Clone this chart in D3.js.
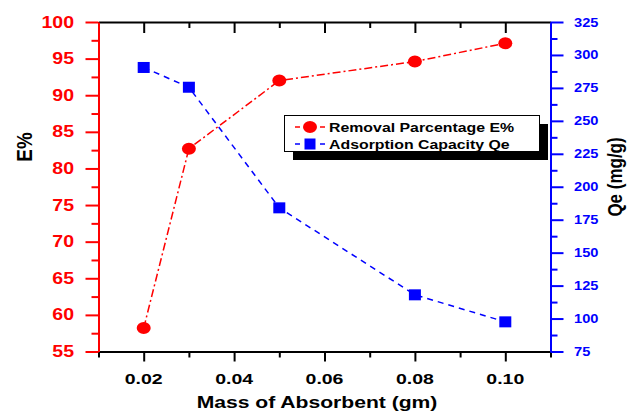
<!DOCTYPE html>
<html>
<head>
<meta charset="utf-8">
<script src="https://cdn.jsdelivr.net/npm/d3@7"></script>
<style>
  body { margin: 0; background: #fff; }
  svg { display: block; }
  text { font-family: "Liberation Sans", Arial, sans-serif; font-weight: bold; }
</style>
</head>
<body>
<svg id="chart" width="627" height="413"></svg>
<script>
// Mass of absorbent (gm) and the two measured series
const mass = [0.02, 0.03, 0.05, 0.08, 0.10];
const removalPct = [58.2, 82.7, 92.0, 94.6, 97.1];
const capacityQe = [290.5, 275.5, 184, 118, 97.5];

// Tick values
const xMajor = [0.02, 0.04, 0.06, 0.08, 0.10];
const xMinor = [0.01, 0.03, 0.05, 0.07, 0.09, 0.11];
const xLabels = ["0.02", "0.04", "0.06", "0.08", "0.10"];
const eMajor = [55, 60, 65, 70, 75, 80, 85, 90, 95, 100];
const eMinor = [57.5, 62.5, 67.5, 72.5, 77.5, 82.5, 87.5, 92.5, 97.5];
const qMajor = [75, 100, 125, 150, 175, 200, 225, 250, 275, 300, 325];
const qMinor = [87.5, 112.5, 137.5, 162.5, 187.5, 212.5, 237.5, 262.5, 287.5, 312.5];

const RED = "#ff0000", BLUE = "#0000ff";

const svg = d3.select("#chart");
const L = 98.5, R = 550.5, T = 22, B = 351.5;

const x = d3.scaleLinear().domain([0.01, 0.11]).range([L, R]);
const yE = d3.scaleLinear().domain([55, 100]).range([B, T]);
const yQ = d3.scaleLinear().domain([75, 325]).range([B, T]);

function styleAxis(g, color) {
  g.selectAll("path.domain").attr("stroke", color).attr("stroke-width", 2);
  g.selectAll(".tick line").attr("stroke", color).attr("stroke-width", 2);
  g.selectAll(".tick text").remove();
}

// Bottom axis (black, outward ticks)
const gb = svg.append("g").attr("transform", `translate(0,${B})`);
gb.call(d3.axisBottom(x).tickValues(xMinor).tickSize(6).tickSizeOuter(0).tickFormat(""));
gb.append("g").call(d3.axisBottom(x).tickValues(xMajor).tickSize(10).tickFormat("")).select("path.domain").remove();
styleAxis(gb, "#000");

// Top axis (black, inward ticks)
const gt = svg.append("g").attr("transform", `translate(0,${T})`);
gt.call(d3.axisBottom(x).tickValues(xMinor).tickSize(6).tickSizeOuter(0).tickFormat(""));
gt.append("g").call(d3.axisBottom(x).tickValues(xMajor).tickSize(11).tickFormat("")).select("path.domain").remove();
styleAxis(gt, "#000");

// Left axis (red)
const gl = svg.append("g").attr("transform", `translate(${L},0)`);
gl.call(d3.axisLeft(yE).tickValues(eMinor).tickSize(7).tickSizeOuter(0).tickFormat(""));
gl.append("g").call(d3.axisLeft(yE).tickValues(eMajor).tickSize(13).tickFormat("")).select("path.domain").remove();
styleAxis(gl, RED);

// Right axis (blue)
const gr = svg.append("g").attr("transform", `translate(${R},0)`);
gr.call(d3.axisRight(yQ).tickValues(qMinor).tickSize(7).tickSizeOuter(0).tickFormat(""));
gr.append("g").call(d3.axisRight(yQ).tickValues(qMajor).tickSize(13).tickFormat("")).select("path.domain").remove();
styleAxis(gr, BLUE);

// Text helper with independent glyph scaling
function label(px, py, str, opts) {
  const o = Object.assign({ size: 14, color: "#000", anchor: "start", rot: 0, sx: 1.22, sy: 1 }, opts);
  return svg.append("text")
    .attr("transform", `translate(${px},${py}) rotate(${o.rot}) scale(${o.sx},${o.sy})`)
    .attr("text-anchor", o.anchor)
    .attr("font-size", o.size)
    .attr("fill", o.color)
    .text(str);
}

// Tick labels
xMajor.forEach((v, i) => label(x(v), 384, xLabels[i], { size: 15, anchor: "middle", sx: 1.3 }));
eMajor.forEach(v => label(74, yE(v) + 5.5, String(v), { size: 16, anchor: "end", color: RED }));
qMajor.forEach(v => label(574, yQ(v) + 4.5, String(v), { size: 12, color: BLUE }));

// Axis titles
label(317, 408, "Mass of Absorbent (gm)", { size: 16, anchor: "middle", sx: 1.32 });
label(32, 147, "E%", { size: 18, anchor: "middle", rot: -90, sx: 1.05, sy: 1.2 });
label(622, 177, "Qe (mg/g)", { size: 17, anchor: "middle", rot: -90, sx: 1.0, sy: 1.15 });

// Series lines
const lineE = d3.line().x((d, i) => x(mass[i])).y(d => yE(d));
const lineQ = d3.line().x((d, i) => x(mass[i])).y(d => yQ(d));

svg.append("path").datum(capacityQe).attr("d", lineQ)
  .attr("fill", "none").attr("stroke", BLUE).attr("stroke-width", 1.5)
  .attr("stroke-dasharray", "6,5");
svg.append("path").datum(removalPct).attr("d", lineE)
  .attr("fill", "none").attr("stroke", RED).attr("stroke-width", 1.5)
  .attr("stroke-dasharray", "8,3,2,3");

// Markers
svg.append("g").selectAll("rect").data(capacityQe).join("rect")
  .attr("x", (d, i) => x(mass[i]) - 6).attr("y", d => yQ(d) - 5.5)
  .attr("width", 12).attr("height", 11).attr("fill", BLUE);
svg.append("g").selectAll("ellipse").data(removalPct).join("ellipse")
  .attr("cx", (d, i) => x(mass[i])).attr("cy", d => yE(d))
  .attr("rx", 7).attr("ry", 6).attr("fill", RED);

// Legend with drop shadow
const lg = svg.append("g");
lg.append("rect").attr("x", 293).attr("y", 124).attr("width", 255).attr("height", 36).attr("fill", "#000");
lg.append("rect").attr("x", 284.5).attr("y", 115.5).attr("width", 255).attr("height", 36)
  .attr("fill", "#fff").attr("stroke", "#000").attr("stroke-width", 1);

const rows = [
  { name: "Removal Parcentage E%", color: RED, shape: "circle", y: 127 },
  { name: "Adsorption Capacity Qe", color: BLUE, shape: "square", y: 144 }
];
rows.forEach(r => {
  lg.append("line").attr("x1", 295).attr("x2", 300).attr("y1", r.y).attr("y2", r.y)
    .attr("stroke", r.color).attr("stroke-width", 1.5);
  lg.append("line").attr("x1", 320).attr("x2", 325).attr("y1", r.y).attr("y2", r.y)
    .attr("stroke", r.color).attr("stroke-width", 1.5);
  if (r.shape === "circle") {
    lg.append("ellipse").attr("cx", 310).attr("cy", r.y).attr("rx", 7).attr("ry", 6).attr("fill", r.color);
  } else {
    lg.append("rect").attr("x", 304.5).attr("y", r.y - 5.5).attr("width", 11).attr("height", 11).attr("fill", r.color);
  }
  label(329, r.y + 4.5, r.name, { size: 13 });
});
</script>
</body>
</html>
